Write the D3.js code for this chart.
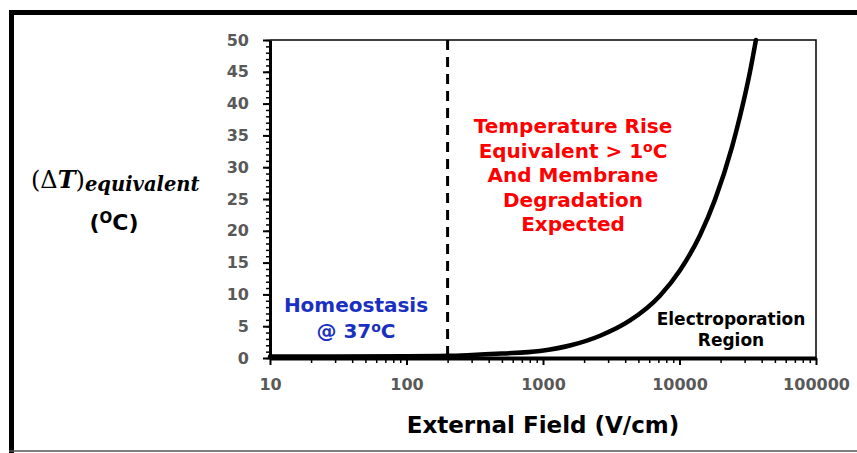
<!DOCTYPE html>
<html>
<head>
<meta charset="utf-8">
<script src="https://cdn.jsdelivr.net/npm/d3@7"></script>
<style>
  body { margin: 0; background: #fff; }
  svg { display: block; }
</style>
</head>
<body>
<div id="wrapper"></div>
<script>
// data
const fieldValues = [10, 30, 100, 200, 280, 500, 950, 1600, 2620, 4340, 7190, 10090, 14130, 18200, 24270, 27750, 32840, 36300];
const deltaT      = [0.25, 0.25, 0.28, 0.35, 0.45, 0.7, 1.1, 2.0, 3.5, 5.9, 9.8, 13.8, 19.3, 24.9, 33.2, 38.0, 45.0, 50];
const xTickValues = [10, 100, 1000, 10000, 100000];
const yTickValues = [0, 5, 10, 15, 20, 25, 30, 35, 40, 45, 50];
const thresholdField = 200;

const sans = "'DejaVu Sans', Verdana, sans-serif";

const dimensions = {
  width: 857,
  height: 453,
  margins: { top: 40, right: 41, bottom: 95, left: 270 }
};
dimensions.boundedWidth = dimensions.width - dimensions.margins.left - dimensions.margins.right;
dimensions.boundedHeight = dimensions.height - dimensions.margins.top - dimensions.margins.bottom;

const wrapper = d3.select("#wrapper")
  .append("svg")
    .attr("width", dimensions.width)
    .attr("height", dimensions.height);

// outer frame
wrapper.append("line")
  .attr("x1", 9).attr("x2", 857).attr("y1", 12.5).attr("y2", 12.5)
  .attr("stroke", "#000").attr("stroke-width", 5);
wrapper.append("line")
  .attr("x1", 11.5).attr("x2", 11.5).attr("y1", 10).attr("y2", 453)
  .attr("stroke", "#000").attr("stroke-width", 5);
wrapper.append("line")
  .attr("x1", 9).attr("x2", 857).attr("y1", 451).attr("y2", 451)
  .attr("stroke", "#555").attr("stroke-width", 1.5);

const bounds = wrapper.append("g")
  .attr("transform", `translate(${dimensions.margins.left},${dimensions.margins.top})`);

// scales
const xScale = d3.scaleLog()
  .domain([10, 100000])
  .range([0, dimensions.boundedWidth]);

const yScale = d3.scaleLinear()
  .domain([0, 50])
  .range([dimensions.boundedHeight, 0]);

// plot box top + right (thin)
bounds.append("path")
  .attr("d", `M0,0H${dimensions.boundedWidth}V${dimensions.boundedHeight}`)
  .attr("fill", "none")
  .attr("stroke", "#000")
  .attr("stroke-width", 1.5);

// minor ticks
const yMinor = d3.range(0, 51, 1);
bounds.append("g")
  .call(d3.axisLeft(yScale).tickValues(yMinor).tickSize(4).tickFormat(""))
  .call(g => g.select(".domain").remove())
  .selectAll("line").attr("stroke-width", 1.5);

const xMinor = [];
for (let d = 10; d < 100000; d *= 10) {
  for (let k = 2; k < 10; k++) xMinor.push(d * k);
}
bounds.append("g")
  .attr("transform", `translate(0,${dimensions.boundedHeight})`)
  .call(d3.axisBottom(xScale).tickValues(xMinor).tickSize(5).tickFormat(""))
  .call(g => g.select(".domain").remove())
  .selectAll("line").attr("stroke-width", 1.5);

// main axes
const yAxis = bounds.append("g")
  .call(d3.axisLeft(yScale).tickValues(yTickValues).tickSize(7).tickPadding(14).tickSizeOuter(0));
yAxis.select(".domain").attr("stroke-width", 3);
yAxis.selectAll(".tick line").attr("stroke-width", 2);
yAxis.selectAll("text")
  .attr("fill", "#595959")
  .style("font-family", sans)
  .style("font-weight", "bold")
  .style("font-size", "16px");

const xAxis = bounds.append("g")
  .attr("transform", `translate(0,${dimensions.boundedHeight})`)
  .call(d3.axisBottom(xScale).tickValues(xTickValues).tickFormat(d3.format("d")).tickSize(7).tickPadding(14).tickSizeOuter(0));
xAxis.select(".domain").attr("stroke-width", 4);
xAxis.selectAll(".tick line").attr("stroke-width", 2);
xAxis.selectAll("text")
  .attr("fill", "#595959")
  .style("font-family", sans)
  .style("font-weight", "bold")
  .style("font-size", "16px");

// threshold dashed line
bounds.append("line")
  .attr("x1", xScale(thresholdField)).attr("x2", xScale(thresholdField))
  .attr("y1", 0).attr("y2", dimensions.boundedHeight)
  .attr("stroke", "#000")
  .attr("stroke-width", 3)
  .attr("stroke-dasharray", "10,7");

// curve
const lineGenerator = d3.line()
  .x((d, i) => xScale(fieldValues[i]))
  .y(d => yScale(d))
  .curve(d3.curveMonotoneX);

bounds.append("path")
  .attr("d", lineGenerator(deltaT))
  .attr("fill", "none")
  .attr("stroke", "#000")
  .attr("stroke-width", 4.5)
  .attr("stroke-linecap", "round");

// annotations
function addLines(lines, x, y0, step, color, size) {
  const t = wrapper.append("text")
    .attr("text-anchor", "middle")
    .attr("fill", color)
    .style("font-family", sans)
    .style("font-weight", "bold")
    .style("font-size", size + "px");
  lines.forEach((l, i) => {
    const ts = t.append("tspan").attr("x", x).attr("y", y0 + i * step);
    if (Array.isArray(l)) {
      ts.append("tspan").text(l[0]);
      ts.append("tspan").attr("font-size", size * 0.7 + "px").attr("dy", -6).text("o");
      ts.append("tspan").attr("dy", 6).text(l[1]);
    } else {
      ts.text(l);
    }
  });
}

addLines(["Homeostasis", ["@ 37", "C"]], 356, 312, 26, "#1a30c0", 20);
addLines(["Temperature Rise", ["Equivalent > 1", "C"], "And Membrane", "Degradation", "Expected"], 573, 133, 24.5, "#ff0000", 20);
addLines(["Electroporation", "Region"], 731, 325, 20.5, "#000", 17);

// axis labels
wrapper.append("text")
  .attr("x", dimensions.margins.left + dimensions.boundedWidth / 2)
  .attr("y", 433)
  .attr("text-anchor", "middle")
  .style("font-family", sans)
  .style("font-weight", "bold")
  .style("font-size", "23px")
  .text("External Field (V/cm)");

const yLabel = wrapper.append("text")
  .attr("x", 31)
  .attr("y", 188)
  .style("font-family", "'DejaVu Serif', serif");
yLabel.append("tspan").style("font-size", "24px").text("(Δ");
yLabel.append("tspan").style("font-size", "24px").style("font-style", "italic").style("font-weight", "bold").text("T");
yLabel.append("tspan").style("font-size", "24px").text(")");
yLabel.append("tspan").attr("dy", 3).style("font-size", "19.5px").style("font-style", "italic").style("font-weight", "bold").text("equivalent");

const unit = wrapper.append("text")
  .attr("x", 114)
  .attr("y", 230)
  .attr("text-anchor", "middle")
  .style("font-family", sans)
  .style("font-weight", "bold")
  .style("font-size", "22px");
unit.append("tspan").text("(");
unit.append("tspan").attr("font-size", "15px").attr("dy", -7).text("O");
unit.append("tspan").attr("dy", 7).text("C)");
</script>
</body>
</html>
